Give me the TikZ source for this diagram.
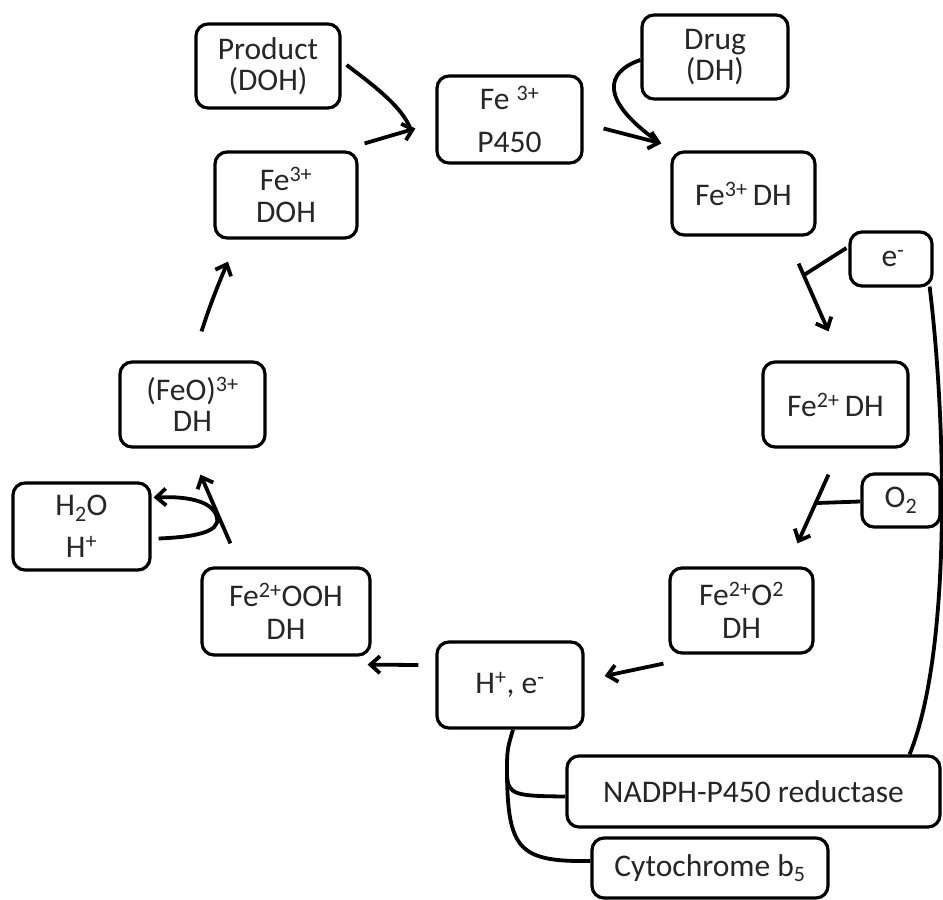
\documentclass[tikz,border=0pt]{standalone}
\usepackage{fontspec}
\setmainfont{Carlito}
\usetikzlibrary{arrows.meta,calc}
\begin{document}
\begin{tikzpicture}[x=1pt,y=-1pt,
  box/.style={draw,line width=3.2pt,rounded corners=12pt,inner sep=0pt,align=center,
    text=black!85,font=\fontsize{31.5}{31.5}\selectfont},
  ln/.style={line width=3.8pt},
  arr/.style={line width=3.8pt,-{Straight Barb[length=9.5pt,width=17pt]}}]
\useasboundingbox (0,0) rectangle (943,900);
% nodes
\node[box,minimum width=144pt,minimum height=84pt] (prod) at (268,66) {Product\\(DOH)};
\node[box,minimum width=145pt,minimum height=87pt] (p450) at (509.5,119.5) {Fe \textsuperscript{3+}\\[12pt]P450};
\node[box,minimum width=142pt,minimum height=86pt] (doh) at (286,195) {Fe\textsuperscript{3+}\\[1pt]DOH};
\node[box,minimum width=146pt,minimum height=84pt] (drug) at (715,57) {Drug\\(DH)};
\node[box,minimum width=143pt,minimum height=83pt] (fedh) at (743.5,193.5) {Fe\textsuperscript{3+}\,DH};
\node[box,minimum width=82pt,minimum height=54pt] (em) at (891,259) {\hspace{4pt}e\textsuperscript{-}};
\node[box,minimum width=145pt,minimum height=85pt] (fe2dh) at (835.5,404.5) {Fe\textsuperscript{2+}\,DH};
\node[box,minimum width=78pt,minimum height=53pt] (o2) at (901,500.5) {\raisebox{-6pt}{O\textsubscript{2}}};
\node[box,minimum width=143pt,minimum height=85pt] (fe2o2) at (741.5,610.5) {Fe\textsuperscript{2+}O\textsuperscript{2}\\[1pt]DH};
\node[box,minimum width=146pt,minimum height=86pt] (he) at (510,685) {H\textsuperscript{+}, e\textsuperscript{-}};
\node[box,minimum width=373pt,minimum height=71pt] (nadph) at (753.5,791.5) {NADPH-P450 reductase};
\node[box,minimum width=236pt,minimum height=60pt] (cyt) at (710,868) {Cytochrome b\textsubscript{5}};
\node[box,minimum width=145pt,minimum height=85pt] (feo) at (192.5,404.5) {(FeO)\textsuperscript{3+}\\DH};
\node[box,minimum width=137pt,minimum height=87pt] (h2o) at (81.5,526.5) {H\textsubscript{2}O\\[10pt]H\textsuperscript{+}};
\node[box,minimum width=168pt,minimum height=87pt] (fe2ooh) at (286,611.5) {Fe\textsuperscript{2+}OOH\\[1pt]DH};
% junction coordinates
\coordinate (j1) at (804,275);
\coordinate (j2) at (817,503);
\coordinate (j3) at (507,775);
% cycle arrows
\draw[arr] ($(doh.north east)+(6,-7)$) -- ($(p450.west)+(-20,9)$);
\draw[ln] ($(prod.east)+(5,-1)$) .. controls (380,90) and (402,108) .. ($(p450.west)+(-25,9)$);
\draw[arr] ($(p450.east)+(20,9)$) -- ($(fedh.north west)+(-9,-7)$);
\draw[ln] ($(drug.west)+(0,3)$) .. controls (605,72) and (600,100) .. ($(fedh.north west)+(-14,-10)$);
\draw[arr] ($(fedh.south east)+(-18,27)$) -- ($(fe2dh.north)+(-7,-29)$);
\draw[ln] ($(em.west)+(-2,-11)$) -- (j1);
\draw[arr] ($(fe2dh.south)+(-7,26)$) -- ($(fe2o2.north)+(56,-23)$);
\draw[ln] ($(o2.west)+(0,1)$) -- (j2);
\draw[arr] ($(fe2o2.south west)+(-5,9)$) -- ($(he.east)+(20,-9)$);
\draw[arr] ($(he.west)+(-17,-20)$) -- ($(fe2ooh.south east)+(-4,8)$);
\draw[arr] ($(fe2ooh.north west)+(30,-23)$) -- ($(feo.south)+(8,26)$);
\draw[arr] ($(h2o.east)+(7,12)$) .. controls (195,537) and (220,532) .. (217,518)
  .. controls (214,502) and (190,496) .. ($(h2o.east)+(2,-29)$);
\draw[arr] ($(feo.north)+(9,-29)$) .. controls (210,305) and (218,285) .. ($(doh.south)+(-58,22)$);
% electron supply lines
\draw[ln] ($(em.south east)+(-4,-1)$) .. controls (946,420) and (952,650) .. ($(nadph.north east)+(-32,0)$);
\draw[ln] ($(he.south)+(3,0)$) .. controls (507,750) .. (j3)
  .. controls (508,795) and (515,796) .. ($(nadph.west)+(0,5)$);
\draw[ln] (j3) .. controls (508,850) and (520,862) .. ($(cyt.west)+(0,-7)$);
\end{tikzpicture}
\end{document}
